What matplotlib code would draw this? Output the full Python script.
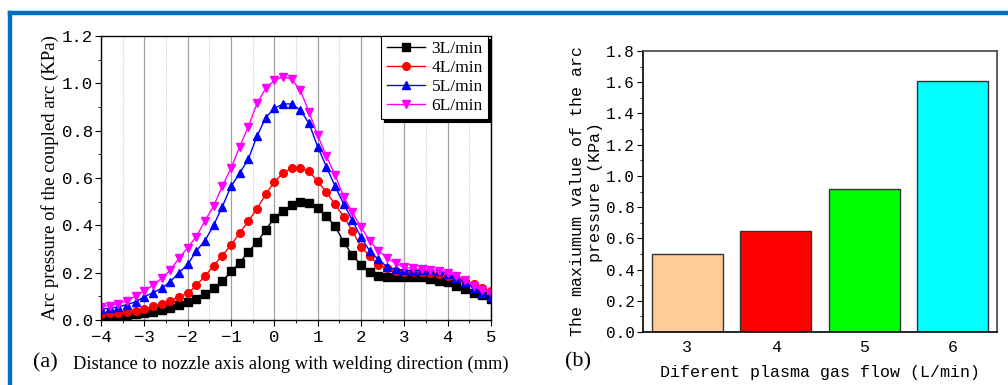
import matplotlib
matplotlib.use('Agg')
import matplotlib.pyplot as plt
import numpy as np
from matplotlib.lines import Line2D
from matplotlib.ticker import MultipleLocator


# distance to nozzle axis (mm)
distance = [-4.0, -3.8, -3.6, -3.4, -3.2, -3.0, -2.8, -2.6, -2.4, -2.2,
            -2.0, -1.8, -1.6, -1.4, -1.2, -1.0, -0.8, -0.6, -0.4, -0.2,
            0.0, 0.2, 0.4, 0.6, 0.8, 1.0, 1.2, 1.4, 1.6, 1.8,
            2.0, 2.2, 2.4, 2.6, 2.8, 3.0, 3.2, 3.4, 3.6, 3.8,
            4.0, 4.2, 4.4, 4.6, 4.8, 5.0]

p_3 = [0.015, 0.017, 0.020, 0.023, 0.027, 0.030, 0.035, 0.042, 0.052, 0.062,
       0.075, 0.090, 0.111, 0.135, 0.163, 0.205, 0.241, 0.289, 0.328, 0.380,
       0.432, 0.462, 0.484, 0.497, 0.494, 0.474, 0.439, 0.397, 0.330, 0.273,
       0.234, 0.201, 0.187, 0.183, 0.182, 0.180, 0.180, 0.180, 0.175, 0.163,
       0.159, 0.145, 0.130, 0.116, 0.104, 0.090]

p_4 = [0.025, 0.028, 0.031, 0.034, 0.037, 0.045, 0.059, 0.069, 0.082, 0.099,
       0.113, 0.146, 0.186, 0.230, 0.272, 0.317, 0.366, 0.418, 0.470, 0.531,
       0.584, 0.620, 0.642, 0.642, 0.628, 0.586, 0.540, 0.489, 0.437, 0.377,
       0.310, 0.270, 0.232, 0.218, 0.208, 0.204, 0.201, 0.201, 0.197, 0.193,
       0.186, 0.176, 0.165, 0.151, 0.137, 0.122]

p_5 = [0.046, 0.049, 0.056, 0.065, 0.077, 0.099, 0.115, 0.134, 0.162, 0.200,
       0.235, 0.292, 0.335, 0.401, 0.479, 0.565, 0.620, 0.680, 0.777, 0.855,
       0.894, 0.913, 0.913, 0.887, 0.831, 0.732, 0.648, 0.566, 0.490, 0.422,
       0.349, 0.292, 0.256, 0.225, 0.214, 0.211, 0.208, 0.211, 0.211, 0.208,
       0.194, 0.179, 0.162, 0.134, 0.115, 0.099]

p_6 = [0.056, 0.061, 0.068, 0.082, 0.101, 0.124, 0.148, 0.176, 0.211, 0.261,
       0.306, 0.352, 0.420, 0.482, 0.566, 0.641, 0.732, 0.817, 0.915, 0.979,
       1.012, 1.028, 1.017, 0.970, 0.880, 0.780, 0.693, 0.613, 0.521, 0.455,
       0.392, 0.335, 0.293, 0.263, 0.239, 0.222, 0.218, 0.214, 0.211, 0.208,
       0.200, 0.184, 0.169, 0.144, 0.127, 0.113]

series_labels = ['3L/min', '4L/min', '5L/min', '6L/min']

# bar chart: maximum arc pressure
gas_flow = [3, 4, 5, 6]
max_pressure = [0.50, 0.65, 0.915, 1.605]

serif = 'Liberation Serif'
mono = 'Liberation Mono'

fig = plt.figure(figsize=(10.08, 3.85), dpi=100, facecolor='white')

# blue frame (top and left edge)
fig.add_artist(Line2D([10 / 1008, 1.0], [1 - 13 / 385, 1 - 13 / 385],
                      color='#0070C0', lw=3.2, transform=fig.transFigure))
fig.add_artist(Line2D([10 / 1008, 10 / 1008], [0.0, 1 - 13 / 385],
                      color='#0070C0', lw=3.2, transform=fig.transFigure))

# ---- (a) line chart ----
ax1 = fig.add_axes([101 / 1008, 65 / 385, 390 / 1008, 284 / 385])

ax1.set_xlim(-4, 5)
ax1.set_ylim(0, 1.2)
ax1.xaxis.set_major_locator(MultipleLocator(1))
ax1.xaxis.set_minor_locator(MultipleLocator(0.5))
ax1.yaxis.set_major_locator(MultipleLocator(0.2))
ax1.yaxis.set_minor_locator(MultipleLocator(0.1))
ax1.grid(True, which='major', axis='x', color='#a0a0a0', lw=0.9)
ax1.grid(True, which='minor', axis='x', color='#cfcfcf', lw=0.8, ls=(0, (1, 1)))
ax1.set_axisbelow(True)

styles = [('black', 's'), ('red', 'o'), ('blue', '^'), ('magenta', 'v')]
for vals, lab, (c, m) in zip([p_3, p_4, p_5, p_6], series_labels, styles):
    ax1.plot(distance, vals, color=c, marker=m, markersize=5.5, lw=1, label=lab)

ax1.tick_params(which='both', direction='out', labelsize=12.5)
ax1.tick_params(which='major', length=4)
ax1.tick_params(which='minor', length=2.5)
ax1.tick_params(axis='x', pad=3)
ax1.tick_params(axis='y', pad=2)
for t in ax1.get_xticklabels() + ax1.get_yticklabels():
    t.set_family(mono)
for s in ax1.spines.values():
    s.set_linewidth(1.0)

ax1.set_ylabel('Arc pressure of the coupled arc (KPa)', family=serif,
               fontsize=13.5)
ax1.yaxis.set_label_coords(-0.108, 0.5)

leg = ax1.legend(loc='upper right', bbox_to_anchor=(0.993, 1.0), fancybox=False,
                 framealpha=1, edgecolor='black', borderaxespad=0,
                 prop={'family': serif, 'size': 12.5}, labelspacing=0.15,
                 handlelength=2.2, handletextpad=0.4, borderpad=0.3,
                 shadow={'color': 'black', 'alpha': 1})
leg.get_frame().set_linewidth(0.8)

fig.text(33 / 1008, 1 - 363 / 385, '(a)', family=serif, fontsize=16,
         ha='left', va='center')
fig.text(73 / 1008, 1 - 364 / 385,
         'Distance to nozzle axis along with welding direction (mm)',
         family=serif, fontsize=13.3, ha='left', va='center')

# ---- (b) bar chart ----
ax2 = fig.add_axes([643 / 1008, 53 / 385, 354 / 1008, 281 / 385])
bar_colors = ['#FFCC99', '#FF0000', '#00FF00', '#00FFFF']
ax2.bar(gas_flow, max_pressure, width=0.8, color=bar_colors,
        edgecolor='#333333', linewidth=1)
ax2.set_xlim(2.5, 6.5)
ax2.set_ylim(0, 1.8)
ax2.set_xticks(gas_flow)
ax2.yaxis.set_major_locator(MultipleLocator(0.2))
ax2.yaxis.set_minor_locator(MultipleLocator(0.1))
ax2.tick_params(axis='y', which='both', direction='out', labelsize=11.5, pad=2)
ax2.tick_params(axis='y', which='major', length=4)
ax2.tick_params(axis='y', which='minor', length=2.5)
ax2.tick_params(axis='x', length=0, labelsize=12, pad=6)
for t in ax2.get_xticklabels() + ax2.get_yticklabels():
    t.set_family(mono)
for side in ['top', 'right']:
    ax2.spines[side].set_color('#444444')
for s in ax2.spines.values():
    s.set_linewidth(1.2)

ax2.set_ylabel('The maxiumum value of the arc\npressure (KPa)', family=mono,
               fontsize=12, multialignment='center', linespacing=1.3)
ax2.yaxis.set_label_coords(-0.112, 0.5)

fig.text(565 / 1008, 1 - 362 / 385, '(b)', family=serif, fontsize=16,
         ha='left', va='center')
fig.text(820 / 1008, 1 - 373 / 385, 'Diferent plasma gas flow (L/min)',
         family=mono, fontsize=12, ha='center', va='center')

fig.savefig('out.png', dpi=100)
